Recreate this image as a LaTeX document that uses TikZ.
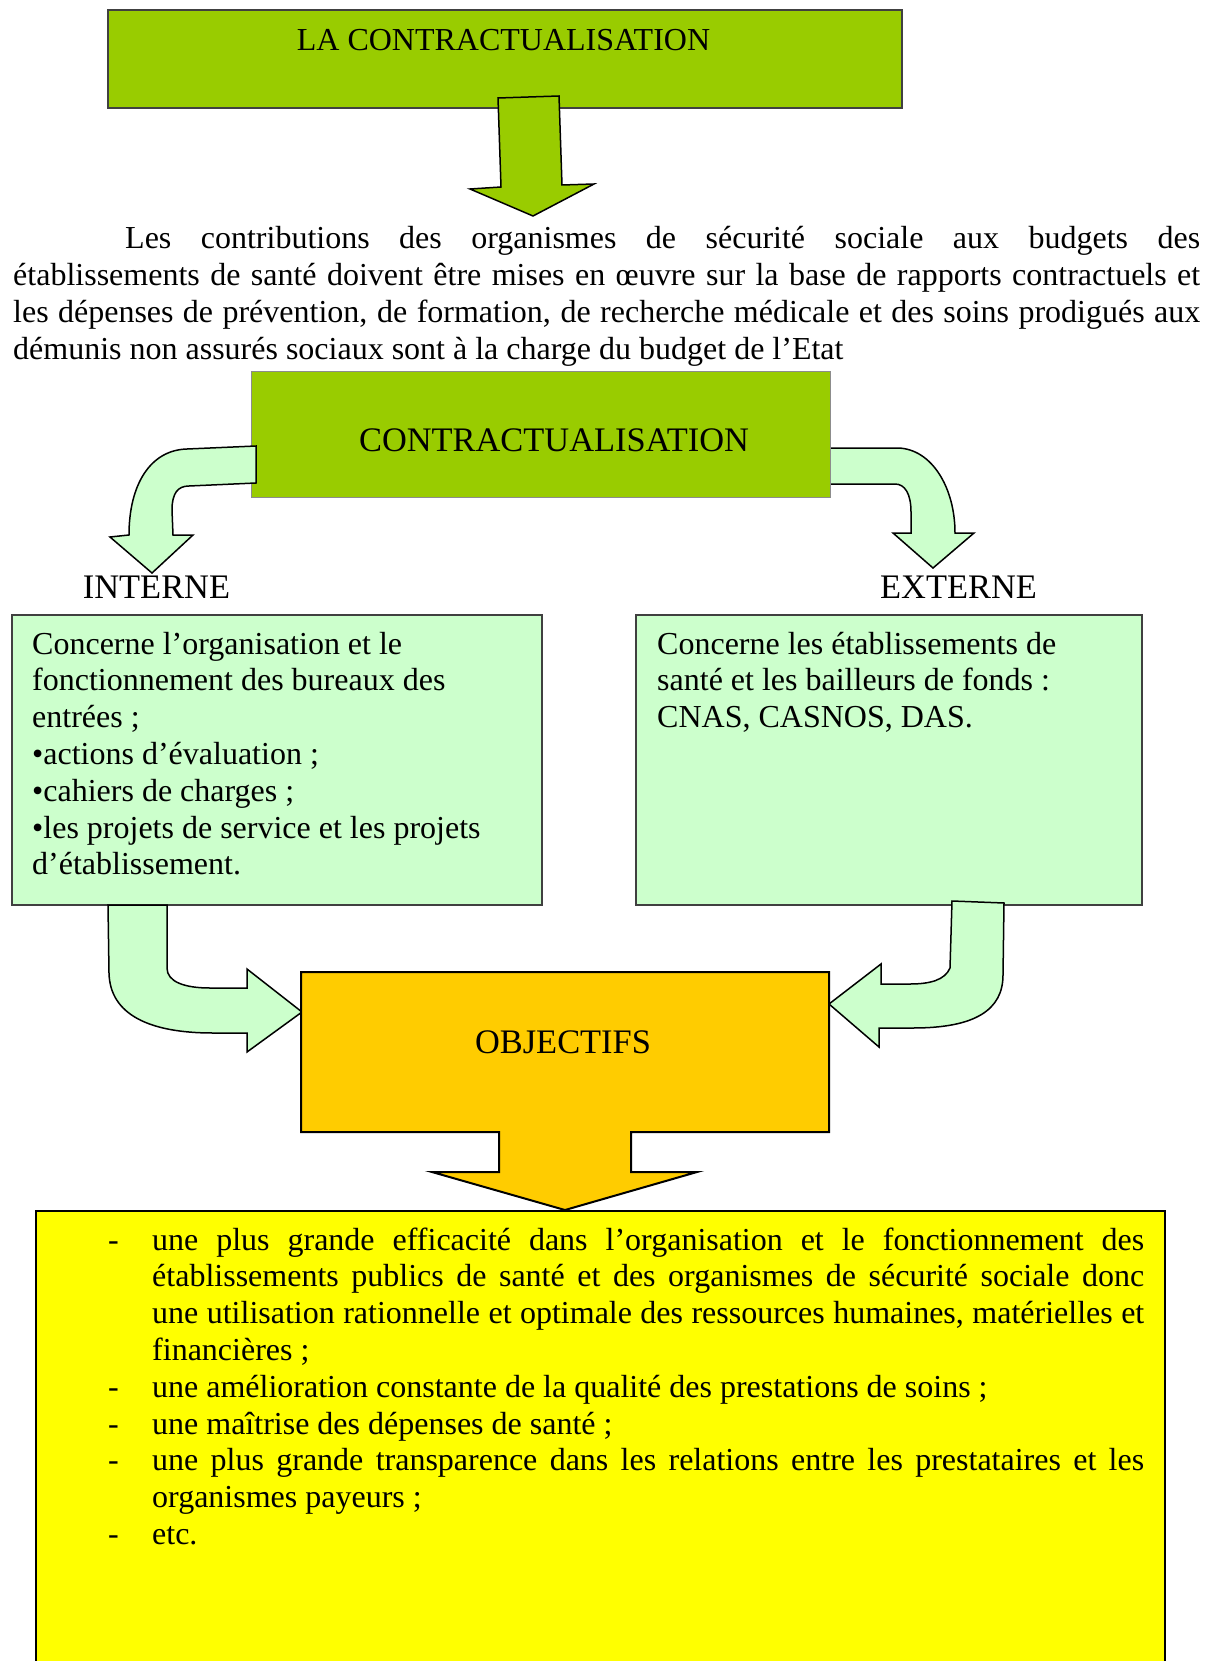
\documentclass[tikz,border=0pt]{standalone}
\usepackage{fontspec}
\setmainfont{Liberation Serif}
\usepackage{tikz}
\usetikzlibrary{positioning}
\definecolor{titlegreen}{HTML}{99CC00}
\definecolor{palegreen}{HTML}{CCFFCC}
\definecolor{goalorange}{HTML}{FFCC00}
\definecolor{listyellow}{HTML}{FFFF00}
\newcommand{\justline}[2]{\makebox[#1][s]{#2}}
\tikzset{
  bodytext/.style={inner sep=0pt,font=\fontsize{32}{36.8}\selectfont,
    execute at begin node={\spaceskip=0pt\xspaceskip=0pt}},
  headtext/.style={inner sep=0pt,font=\fontsize{34.4}{40}\selectfont},
  panel/.style={rectangle,inner sep=0pt,outer sep=0pt,anchor=north west},
  blockarrow/.style={draw=black,line width=1.5pt,line join=miter},
}

\begin{document}
\begin{tikzpicture}[x=1pt,y=-1pt]
  \useasboundingbox (0,0) rectangle (1212,1661);
  % haut
  \node[panel,fill=titlegreen,draw=black!75,line width=1.5pt,minimum width=794,minimum height=98] (top) at (108,10) {};
  \node[bodytext,anchor=base] (toptitle) at (503.5,51) {LA CONTRACTUALISATION};
  \filldraw[blockarrow,fill=titlegreen] (498,98) -- (559,96) -- (562,185) -- (594,184) -- (533,216) -- (470,189) -- (501,187) -- cycle;
  \node[bodytext,anchor=base west,text width=1187] (intro) at (13,249)
    {\justline{1187pt}{\hspace*{112pt}Les contributions des organismes de sécurité sociale aux budgets des}\\
     \justline{1187pt}{établissements de santé doivent être mises en œuvre sur la base de rapports contractuels et}\\
     \justline{1187pt}{les dépenses de prévention, de formation, de recherche médicale et des soins prodigués aux}\\
     démunis non assurés sociaux sont à la charge du budget de l’Etat};
  % contractualisation
  \filldraw[blockarrow,fill=palegreen] (828,448) -- (898,448) .. controls (932,449) and (955,488) .. (955,533) -- (974,533) -- (933,568) -- (893,533) -- (911,533) -- (911,512) .. controls (911,494) and (905,484) .. (895,484) -- (828,484) -- cycle;
  \node[panel,fill=titlegreen,draw=black!45,line width=1pt,minimum width=579,minimum height=126] (contrat) at (251,371) {};
  \node[headtext,anchor=base] (contratitle) at (554,451) {CONTRACTUALISATION};
  \filldraw[blockarrow,fill=palegreen] (256,446) -- (187,449) .. controls (150,450) and (129,485) .. (129,535) -- (110,537) -- (152,573) -- (193,535) -- (173,535) -- (172,510) .. controls (172,493) and (178,486) .. (189,486) -- (256,483) -- cycle;
  \node[headtext,anchor=base] (interne) at (156.5,598) {INTERNE};
  \node[headtext,anchor=base] (externe) at (958.5,598) {EXTERNE};
  % interne / externe
  \node[panel,fill=palegreen,draw=black!75,line width=1.5pt,minimum width=530,minimum height=290] (boxint) at (12,615) {};
  \node[panel,fill=palegreen,draw=black!75,line width=1.5pt,minimum width=506,minimum height=290] (boxext) at (636,615) {};
  \node[bodytext,anchor=base west,text width=500] (textint) at (32,654)
    {Concerne l’organisation et le\\ fonctionnement des bureaux des\\ entrées ;\\
     •actions d’évaluation ;\\ •cahiers de charges ;\\ •les projets de service et les projets\\ d’établissement.};
  \node[bodytext,anchor=base west,text width=470] (textext) at (657,654)
    {Concerne les établissements de\\ santé et les bailleurs de fonds :\\ CNAS, CASNOS, DAS.};
  \filldraw[blockarrow,fill=palegreen] (108,905) -- (109,973) .. controls (110,1015) and (150,1033) .. (213,1033) -- (247,1033) -- (247,1052) -- (302,1012) -- (247,969) -- (247,988) -- (210,988) .. controls (185,988) and (167,982) .. (167,968) -- (167,905) -- cycle;
  \filldraw[blockarrow,fill=palegreen] (952,901) -- (950,968) .. controls (945,980) and (930,984) .. (910,984) -- (881,984) -- (881,964) -- (829,1004) -- (879,1047) -- (879,1028) -- (913,1028) .. controls (975,1028) and (1003,1010) .. (1003,975) -- (1004,903) -- cycle;
  % objectifs
  \node[panel,fill=listyellow,minimum width=1129,minimum height=450] (liste) at (36,1211) {};
  \draw[line width=1.5pt] (liste.south west) -- (liste.north west) -- (liste.north east) -- (liste.south east);
  \filldraw[draw=black,line width=2pt,fill=goalorange] (301,972) -- (829,972) -- (829,1132) -- (631,1132) -- (631,1172) -- (697,1172) -- (565,1210) -- (432,1172) -- (499,1172) -- (499,1132) -- (301,1132) -- cycle;
  \node[headtext,anchor=base] (objectifs) at (563,1053) {OBJECTIFS};
  \node[bodytext,anchor=base west,text width=1036] (textliste) at (108,1250)
    {\makebox[44pt][l]{-}\justline{992pt}{une plus grande efficacité dans l’organisation et le fonctionnement des}\\
     \hspace*{44pt}\justline{992pt}{établissements publics de santé et des organismes de sécurité sociale donc}\\
     \hspace*{44pt}\justline{992pt}{une utilisation rationnelle et optimale des ressources humaines, matérielles et}\\
     \hspace*{44pt}financières ;\\
     \makebox[44pt][l]{-}une amélioration constante de la qualité des prestations de soins ;\\
     \makebox[44pt][l]{-}une maîtrise des dépenses de santé ;\\
     \makebox[44pt][l]{-}\justline{992pt}{une plus grande transparence dans les relations entre les prestataires et les}\\
     \hspace*{44pt}organismes payeurs ;\\
     \makebox[44pt][l]{-}etc.};
\end{tikzpicture}
\end{document}
